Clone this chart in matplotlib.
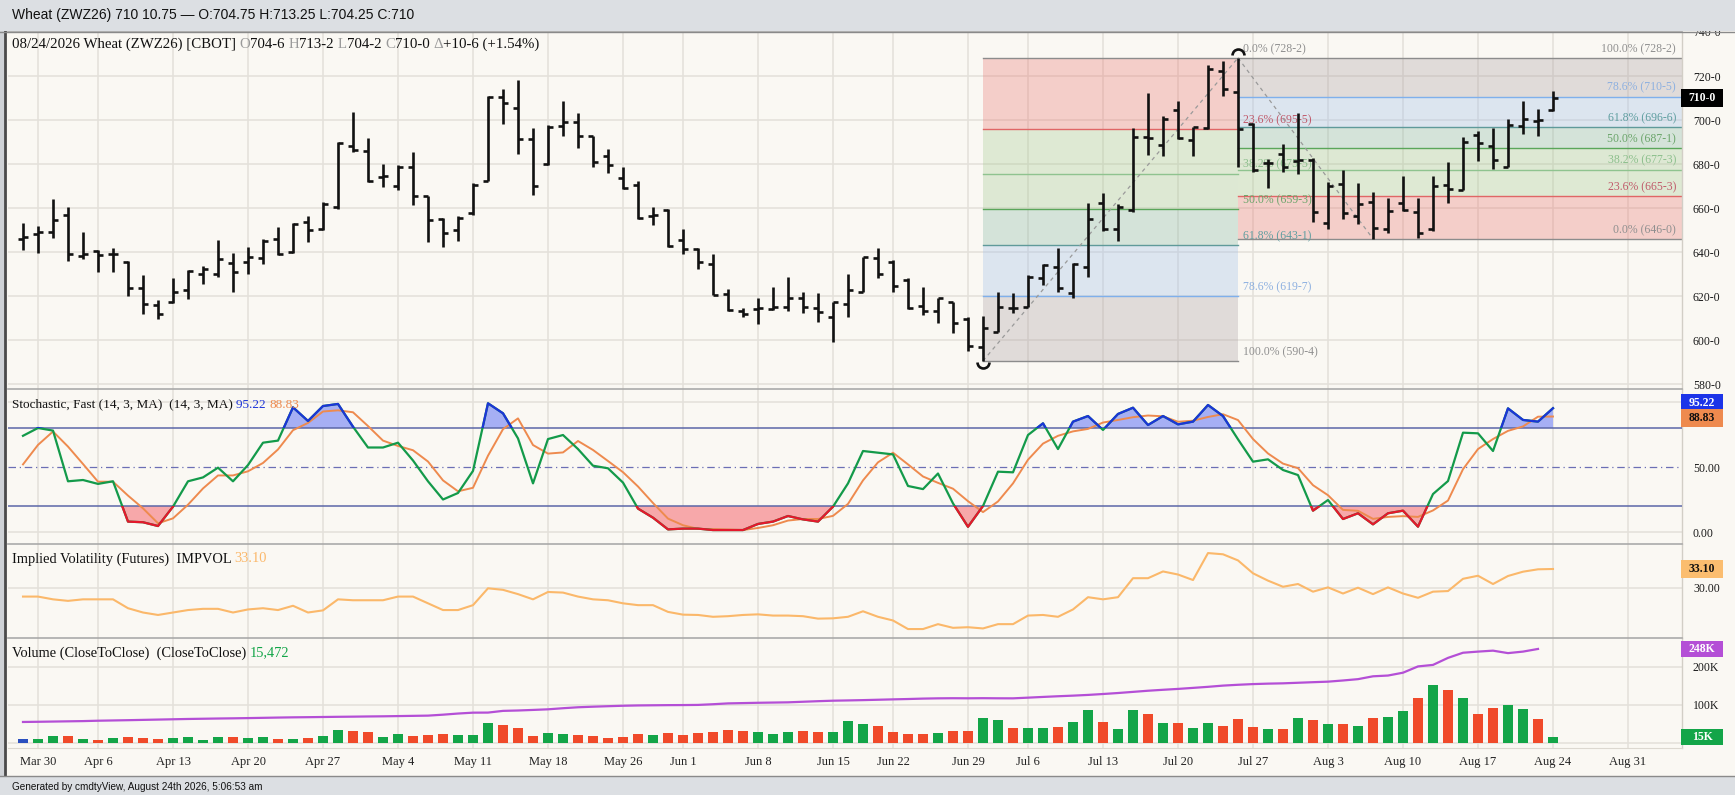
import numpy as np
import pandas as pd
import matplotlib
matplotlib.use("Agg")
import matplotlib.pyplot as plt
from matplotlib.collections import LineCollection
from matplotlib.patches import Rectangle
from matplotlib.lines import Line2D
from matplotlib.path import Path
from matplotlib.transforms import IdentityTransform

W, H = 1735, 795
BG = "#faf8f3"
GRID = "#e3e0da"
SERIF = ["Liberation Serif", "DejaVu Serif"]
SANS = ["Liberation Sans", "DejaVu Sans"]
plt.rcParams["font.family"] = SERIF

# ---------------- calendar / categories ----------------
HOLIDAYS = ["2026-04-03", "2026-05-25", "2026-06-19", "2026-07-03", "2026-09-07"]
CAL_START, CAL_END = "2026-03-27", "2026-09-04"
tick_dates = ["2026-03-30", "2026-04-06", "2026-04-13", "2026-04-20", "2026-04-27",
              "2026-05-04", "2026-05-11", "2026-05-18", "2026-05-26", "2026-06-01",
              "2026-06-08", "2026-06-15", "2026-06-22", "2026-06-29", "2026-07-06",
              "2026-07-13", "2026-07-20", "2026-07-27", "2026-08-03", "2026-08-10",
              "2026-08-17", "2026-08-24", "2026-08-31"]
tick_labels = ["Mar 30", "Apr 6", "Apr 13", "Apr 20", "Apr 27", "May 4", "May 11",
               "May 18", "May 26", "Jun 1", "Jun 8", "Jun 15", "Jun 22", "Jun 29",
               "Jul 6", "Jul 13", "Jul 20", "Jul 27", "Aug 3", "Aug 10", "Aug 17",
               "Aug 24", "Aug 31"]

# ---------------- price data (cents) ----------------
opens = [646, 648, 649.2, 656.8, 638, 640.4, 639, 635.5, 623.5, 615.9,
         617.4, 622.7, 630, 629.8, 634.8, 635.6, 637.1, 645.9, 640.1, 653.5,
         650.3, 660.3, 688.3, 686, 674.2, 670.1, 678.8, 665.4, 654.8, 650,
         657.6, 672.4, 710.6, 705.3, 691.2, 679.8, 697.3, 699.2, 692.7, 683.6,
         673.5, 670.4, 656.5, 659.1, 645.4, 641.3, 634.4, 620.7, 613.3, 614,
         614.1, 615.1, 618.9, 614.7, 610.6, 616.3, 622, 637.4, 635.3, 627.3,
         615.4, 613.3, 617.4, 609.5, 597, 603.8, 614.4, 615.1, 628, 633.3,
         621.2, 633.3, 662.4, 650.4, 659.1, 692.4, 688.6, 704.5, 690.9, 696.2,
         722.4, 712.9, 698, 680.3, 684.5, 681.5, 681.8, 653, 670.9, 656.4,
         662.9, 650.5, 662.1, 658.3, 650.3, 670.5, 668.2, 693.2, 688.2, 678.8,
         697.3, 699.5, 704.75]
highs = [653.3, 652, 664, 660.6, 649.2, 640.9, 642, 636, 629.4, 618.2,
         628.3, 631.8, 633.6, 645.4, 639.4, 642.4, 645.7, 651.2, 653.3, 656.5,
         662.7, 689.8, 703.5, 692, 680, 679.5, 685.6, 665.4, 655.3, 656.5,
         671.5, 710.9, 713.9, 718.2, 696.2, 697.7, 708.8, 703.3, 692.7, 686.6,
         678.8, 672.3, 660.6, 659.5, 650.4, 642, 638.9, 623, 614.7, 619.2,
         623.9, 628.8, 622, 621.2, 617.4, 630, 637.9, 641.7, 636.4, 628,
         624.2, 618.9, 617.4, 610.3, 611, 622, 621.2, 629.5, 634.4, 641.7,
         634.8, 662.1, 666.7, 661.8, 696.5, 712.4, 701.8, 708.6, 697, 725,
         727, 728.25, 698.8, 682.1, 688.9, 703, 682.6, 671.6, 677.3, 671.2,
         667.4, 664.4, 674.5, 664.7, 674.5, 681.1, 692.1, 695, 696.5, 700.3,
         708.8, 705, 713.25]
lows = [640.9, 639.7, 646.5, 635.9, 636.7, 630.7, 631, 620, 612, 609.4,
        617, 618.6, 625.3, 628.8, 621.7, 629.8, 634.4, 638.6, 639.4, 644.4,
        650, 659.5, 685.3, 672, 669.4, 668.2, 661.3, 644.7, 642.4, 645.1,
        656.8, 672.3, 698.2, 684.5, 665.9, 679.5, 692.9, 687.4, 678.8, 676,
        668.5, 654.8, 652.3, 642.1, 639.1, 632.1, 620.4, 613.2, 610.6, 607.1,
        613.6, 613.2, 612.4, 608.3, 598.9, 610.6, 622, 628, 622, 613.9,
        611.4, 607.6, 603, 595, 590.5, 603.5, 612.1, 614.8, 625, 622,
        618.9, 628.8, 649.7, 645, 658.3, 684.1, 683.6, 691.2, 683.6, 695.9,
        710.9, 678.8, 676.5, 668.9, 676.5, 675.4, 653.8, 650.5, 654.8, 652.7,
        646, 648.5, 658.8, 646.2, 649.7, 662.4, 668.2, 681.5, 677.6, 678.8,
        693.5, 692.7, 704.25]
closes = [647, 649, 654.5, 639, 639.2, 638.5, 639.1, 623.5, 616.2, 611.7,
          621.7, 631.5, 632.4, 636.6, 631, 637.9, 645, 639.1, 652.7, 650,
          661.8, 689.4, 686.3, 672.4, 674.5, 678.8, 665.6, 654.5, 648.8, 655.6,
          670.4, 710.6, 707.9, 691.2, 670, 697, 699.2, 692.7, 680.7, 679.5,
          668.9, 655.3, 657, 642.7, 641.2, 635.6, 620.4, 613.6, 611.8, 614.5,
          615, 618.9, 615.1, 612.6, 617.1, 622.7, 637.6, 629.8, 624.5, 614.4,
          613.3, 618.9, 607.9, 597.5, 605.6, 615.1, 614.5, 628.8, 634.1, 623.8,
          634.4, 654.8, 650.4, 660.6, 692.4, 691.7, 700.3, 691.7, 696.7, 723,
          713.9, 695.9, 677.3, 680.6, 678.8, 681.8, 658, 670.1, 657.6, 661.7,
          650.8, 658.6, 659.1, 648.8, 670.1, 668.6, 689.8, 689.4, 681.8, 697.7,
          700.5, 700, 710]

# ---------------- indicator data ----------------
stoch_k = [74, 80, 78, 39, 40, 37, 39, 8, 7.5, 4.6,
           19.5, 39, 42, 49.5, 39, 51.5, 68.7, 70.3, 95.9, 85.4,
           96.9, 98.5, 81, 65, 65, 68.7, 55, 39, 25, 30,
           47, 99, 91.3, 72, 37.4, 71.5, 74.6, 63.8, 51, 49,
           38, 18, 11, 2, 2.6, 2.6, 1.5, 1.5, 1.5, 6.2,
           8, 12.3, 9.7, 8, 19.5, 37.4, 62.3, 61, 59.7, 35.4,
           33, 45, 22, 4, 20, 46.4, 45.9, 74.6, 83.6, 63.8,
           84.9, 89.2, 78.5, 90.8, 95.6, 82.3, 89.2, 82.8, 84.9, 97.7,
           89.2, 71.3, 54.1, 55.9, 47.7, 43.8, 16.4, 24.6, 10, 14.4,
           5.9, 14.4, 16.4, 4.1, 29.2, 39.2, 76.4, 75.9, 62.3, 95.1,
           86.2, 84.9, 95.22]
stoch_d = [52, 67, 77.3, 65.7, 52.3, 38.7, 38.7, 28, 18.2, 6.7,
           10.5, 21, 33.5, 43.5, 43.5, 46.7, 53.1, 63.5, 78.3, 83.9,
           92.7, 93.6, 92.1, 81.5, 70.3, 66.2, 62.9, 54.2, 39.7, 31.3,
           34, 58.7, 79.1, 87.4, 66.9, 60.3, 61.2, 70, 63.1, 54.6,
           46, 35, 22.3, 10.3, 5.2, 2.4, 2.2, 1.9, 1.5, 3.1,
           5.2, 8.8, 10, 10, 12.4, 21.6, 39.7, 53.6, 61, 52,
           42.7, 37.8, 33.3, 23.7, 15.3, 23.5, 37.4, 55.6, 68, 74,
           77.4, 79.3, 84.2, 86.2, 88.3, 89.6, 89, 84.8, 85.6, 88.5,
           90.6, 86.1, 71.5, 60.4, 52.6, 49.1, 36, 28.3, 17, 16.3,
           10.1, 11.6, 12.2, 11.6, 16.6, 24.2, 48.3, 63.8, 71.5, 77.8,
           81.2, 88.7, 88.83]
impvol = [28.6, 28.6, 28.15, 27.9, 28.15, 28.15, 28.15, 26.7, 26.0, 25.6,
          26.0, 26.4, 26.6, 26.6, 26.0, 26.5, 26.7, 26.4, 27.1, 26.0,
          26.35, 28.15, 28.0, 28.0, 28.0, 28.6, 28.6, 27.5, 26.4, 26.4,
          27.2, 29.95, 29.7, 29.0, 28.15, 29.35, 29.25, 28.6, 28.15, 28.0,
          27.5, 27.2, 27.2, 26.1, 25.65, 25.6, 25.3, 25.4, 25.6, 25.7,
          25.5, 25.5, 25.4, 25.0, 25.05, 25.3, 26.2, 25.3, 24.7, 23.3,
          23.3, 24.1, 23.5, 23.6, 23.4, 24.1, 24.1, 25.5, 25.6, 25.3,
          26.5, 28.5, 28.15, 28.5, 31.6, 31.6, 32.7, 32.2, 31.3, 35.7,
          35.5, 34.5, 32.4, 31.2, 30.2, 30.65, 29.4, 30.1, 29.1, 30.05,
          29.0, 30.1, 29.1, 28.4, 29.4, 29.5, 31.5, 32.0, 30.65, 31.96,
          32.66, 33.05, 33.10]
volume_k = [9.6, 10.5, 18.4, 18.4, 11.4, 8.8, 14.0, 16.7, 13.2, 11.4,
            14.0, 14.9, 8.8, 15.8, 16.7, 14.0, 14.9, 10.5, 11.4, 14.0,
            19.3, 34.2, 32.5, 28.1, 16.7, 22.8, 19.3, 21.1, 23.7, 21.1,
            20.2, 52.6, 46.5, 38.6, 19.3, 27.2, 22.8, 21.1, 19.3, 14.0,
            16.7, 23.7, 21.9, 27.2, 20.2, 25.4, 29.8, 33.3, 31.6, 28.1,
            23.7, 29.0, 30.7, 28.1, 29.0, 57.9, 49.1, 43.9, 29.0, 24.6,
            24.6, 27.2, 30.7, 30.7, 65.8, 60.5, 38.6, 39.5, 39.5, 41.2,
            54.4, 86.8, 56.1, 37.7, 86.0, 75.4, 51.7, 53.5, 38.6, 51.7,
            45.6, 63.2, 42.1, 37.7, 36.8, 64.9, 59.6, 49.1, 49.1, 44.7,
            66.7, 69.3, 85.1, 117.5, 152.0, 139.5, 117.5, 75.0, 93.0, 100.0,
            90.0, 63.0, 15.472]
open_int_k = [55.3, 55.8, 56.4, 57.0, 57.6, 58.6, 59.3, 60.0, 60.8, 61.6,
              62.4, 63.2, 63.8, 64.4, 64.9, 65.5, 66.2, 66.9, 67.5, 67.9,
              68.4, 68.9, 69.3, 69.8, 70.2, 70.8, 71.4, 72.0, 74.5, 77.5,
              79.8, 80.0, 84.5, 85.5, 87.0, 88.6, 91.5, 94.0, 95.5, 96.8,
              98.0, 98.8, 99.2, 99.6, 99.8, 100.2, 102.0, 104.2, 105.0, 105.8,
              106.4, 107.0, 108.5, 110.0, 111.3, 112.0, 112.8, 113.8, 114.8, 115.7,
              116.8, 117.5, 117.8, 117.6, 117.9, 117.6, 117.5, 119.3, 121.2, 123.0,
              124.6, 126.5, 128.9, 131.5, 134.5, 137.5, 140.0, 142.3, 145.0, 147.8,
              151.0, 153.2, 155.0, 156.2, 157.0, 158.5, 160.0, 161.4, 164.5, 168.0,
              175.5, 177.5, 185.0, 201.5, 205.5, 224.0, 237.5, 240.5, 243.0, 236.5,
              240.5, 247.5]

# ---------------- fibonacci drawings ----------------
fib_ratios = [0.0, 0.236, 0.382, 0.5, 0.618, 0.786, 1.0]
fib1 = dict(i0=64, p0=590.5, i1=81, p1=728.25,
            labels=["0.0% (728-2)", "23.6% (695-5)", "38.2% (675-5)", "50.0% (659-3)",
                    "61.8% (643-1)", "78.6% (619-7)", "100.0% (590-4)"])
fib2 = dict(i0=81, p0=728.25, i1=90, p1=646.0,
            labels=["0.0% (646-0)", "23.6% (665-3)", "38.2% (677-3)", "50.0% (687-1)",
                    "61.8% (696-6)", "78.6% (710-5)", "100.0% (728-2)"])
band_colors = ["#e96f6a", "#a0c98c", "#9cc68a", "#7fb5a0", "#99bce9", "#a79ba0"]
line_colors = ["#8c8c8c", "#e06666", "#8fc38f", "#5aa65a", "#5f9a9a", "#7fb0ec", "#8c8c8c"]
label_colors = ["#8f8f8f", "#c0596a", "#8cbf8c", "#6aa56a", "#5f9ea0", "#8db0e0", "#8f8f8f"]

# ---------------- setup ----------------
cal = [d for d in pd.bdate_range(CAL_START, CAL_END) if d.strftime("%Y-%m-%d") not in HOLIDAYS]
cal_idx = {d.strftime("%Y-%m-%d"): k for k, d in enumerate(cal)}
tick_idx = [cal_idx[d] for d in tick_dates]
n = len(closes)
x = np.arange(n)

fig = plt.figure(figsize=(W / 100, H / 100), dpi=100, facecolor=BG)
R = fig.canvas.get_renderer()
XMIN, XMAX = -1, 110.6
PL, PR = 8, 1682


def add_ax(top, bot):
    ax = fig.add_axes([PL / W, 1 - bot / H, (PR - PL) / W, (bot - top) / H])
    ax.set_facecolor(BG)
    ax.set_xlim(XMIN, XMAX)
    for s in ["left", "bottom"]:
        ax.spines[s].set_visible(False)
    ax.spines["top"].set_color("#aaaaaa")
    ax.spines["top"].set_linewidth(1.2)
    ax.spines["right"].set_color("#d2cec6")
    ax.spines["right"].set_linewidth(1.0)
    ax.set_xticks(tick_idx)
    ax.tick_params(axis="x", length=0, labelbottom=False)
    ax.yaxis.tick_right()
    ax.tick_params(axis="y", length=0, pad=7.9, labelsize=8.5, labelcolor="#1a1a1a")
    for t in tick_idx:
        ax.axvline(t, color=GRID, lw=1.1, zorder=0.5)
    return ax


# ---------- price panel ----------
axp = add_ax(32, 389)
axp.set_ylim(577.73, 740)
pt = list(range(580, 741, 20))
axp.set_yticks(pt)
axp.set_yticklabels([f"{v}-0" for v in pt])
for v in pt:
    axp.axhline(v, color=GRID, lw=1.1, zorder=0.5)


def draw_fib(f, x_end, label_right):
    lv = [f["p1"] + r * (f["p0"] - f["p1"]) for r in fib_ratios]
    for j in range(len(lv) - 1):
        axp.fill_between([f["i0"], x_end], lv[j], lv[j + 1],
                         color=band_colors[j], alpha=0.3, lw=0, zorder=1)
    for j, v in enumerate(lv):
        axp.plot([f["i0"], x_end], [v, v], color=line_colors[j], lw=1.0, zorder=1.5)
        if label_right:
            axp.annotate(f["labels"][j], xy=(1, v), xycoords=("axes fraction", "data"),
                         xytext=(-6, 9), textcoords="offset pixels", ha="right", va="center",
                         fontsize=8.5, color=label_colors[j], zorder=2)
        else:
            axp.annotate(f["labels"][j], xy=(x_end + 0.35, v), xytext=(0, 9),
                         textcoords="offset pixels", ha="left", va="center",
                         fontsize=8.5, color=label_colors[j], zorder=2)
    axp.plot([f["i0"], f["i1"]], [f["p0"], f["p1"]], color="#9a9a9a", lw=0.9,
             ls=(0, (3, 3)), zorder=2)


draw_fib(fib1, fib1["i1"], False)
draw_fib(fib2, XMAX, True)

segs = []
for i in range(n):
    segs.append([(i, lows[i]), (i, highs[i])])
    segs.append([(i - 0.36, opens[i]), (i, opens[i])])
    segs.append([(i, closes[i]), (i + 0.36, closes[i])])
axp.add_collection(LineCollection(segs, colors="#111111", linewidths=1.9,
                                  capstyle="butt", zorder=4))
hi_i = int(np.argmax(highs))
lo_i = int(np.argmin(lows))
axp.plot([hi_i], [highs[hi_i] + 1.3], marker=Path.arc(0, 180), ms=8.6, mew=1.9,
         mfc="none", mec="#111111", ls="none", zorder=5)
axp.plot([lo_i], [lows[lo_i] - 0.6], marker=Path.arc(180, 360), ms=8.6, mew=1.9,
         mfc="none", mec="#111111", ls="none", zorder=5)

# ---------- stochastic panel ----------
axs = add_ax(389, 544)
axs.set_ylim(-9.23, 110)
axs.set_yticks([0, 50, 100])
axs.set_yticklabels(["0.00", "50.00", ""])
for v in [0, 100]:
    axs.axhline(v, color=GRID, lw=1.1, zorder=0.5)
k = np.array(stoch_k)
d = np.array(stoch_d)
axs.fill_between(x, k, 80, where=k >= 80, interpolate=True, color="#a6aff4", lw=0, zorder=2)
axs.fill_between(x, k, 20, where=k <= 20, interpolate=True, color="#f7a8aa", lw=0, zorder=2)
axs.axhline(80, color="#5b67a8", lw=1.1, zorder=3)
axs.axhline(20, color="#5b67a8", lw=1.1, zorder=3)
axs.axhline(50, color="#6b6fb5", lw=0.9, ls=(0, (6, 3, 1, 3)), zorder=3)
axs.plot(x, d, color="#ee8a4e", lw=1.4, zorder=4)
axs.plot(x, k, color="#139a4a", lw=1.6, zorder=5)
lb, = axs.plot(x, k, color="#1c34d8", lw=1.6, zorder=5.1)
lb.set_clip_path(Rectangle((-5, 80), 200, 100, transform=axs.transData))
lr, = axs.plot(x, k, color="#e5182c", lw=1.6, zorder=5.1)
lr.set_clip_path(Rectangle((-5, -60), 200, 80, transform=axs.transData))

# ---------- implied volatility panel ----------
axi = add_ax(544, 638)
axi.set_ylim(21.84, 37.18)
axi.set_yticks([30])
axi.set_yticklabels(["30.00"])
axi.axhline(30, color=GRID, lw=1.1, zorder=0.5)
axi.plot(x, impvol, color="#fbb86a", lw=1.5, zorder=3)

# ---------- volume panel ----------
axv = add_ax(638, 748)
axv.set_ylim(-13.2e3, 276.3e3)
axv.set_yticks([100e3, 200e3])
axv.set_yticklabels(["100K", "200K"])
for v in [0, 100e3, 200e3]:
    axv.axhline(v, color=GRID, lw=1.1, zorder=0.5)
axv.spines["bottom"].set_visible(True)
axv.spines["bottom"].set_color("#dcd8d0")
vcols = ["#2a4fbf"] + ["#13a548" if closes[i] > closes[i - 1] else "#f04a2a" for i in range(1, n)]
axv.bar(x, np.array(volume_k) * 1000, width=0.66, color=vcols, zorder=2)
axv.plot(np.arange(len(open_int_k)), np.array(open_int_k) * 1000, color="#b44fd6", lw=1.6, zorder=3)
axv.set_xticklabels(tick_labels)
axv.tick_params(axis="x", length=0, pad=5.5, labelbottom=True, labelsize=9, labelcolor="#222222")

# ---------------- figure-level decorations ----------------
ID = IdentityTransform()


def frect(x0, y0, x1, y1, z=10, **kw):
    fig.add_artist(Rectangle((x0, H - y1), x1 - x0, y1 - y0, transform=ID, zorder=z, **kw))


def hline(y, x0, x1, color, lw, z=11):
    fig.add_artist(Line2D([x0, x1], [H - y, H - y], transform=ID, color=color, lw=lw, zorder=z))


def twidth(s, **kw):
    t = fig.text(0, 0, s + "|", transform=ID, **kw)
    w1 = t.get_window_extent(R).width
    t.remove()
    t = fig.text(0, 0, "|", transform=ID, **kw)
    w2 = t.get_window_extent(R).width
    t.remove()
    return w1 - w2


def rich(x0, ybase, parts, size, family=SERIF, z=6):
    xx = x0
    for s, c in parts:
        fig.text(xx, H - ybase, s, transform=ID, color=c, fontsize=size, family=family,
                 ha="left", va="baseline", zorder=z)
        xx += twidth(s, fontsize=size, family=family)


def value_box(ax, yval, text, fc, tc, h=18, shift=0):
    yd = ax.transData.transform((0, yval))[1] + shift
    fig.add_artist(Rectangle((1681, yd - h / 2), 42, h, transform=ID, fc=fc, ec="none", zorder=8))
    fig.text(1702, yd, text, transform=ID, ha="center", va="center", color=tc, fontsize=8.5,
             fontweight="bold", zorder=8)


# header & footer
frect(0, 0, W, 31, fc="#dcdfe3", ec="none")
hline(31.5, 0, W, "#8a8a8a", 1.0)
fig.text(12, H - 19.5, "Wheat (ZWZ26) 710 10.75 \u2014 O:704.75 H:713.25 L:704.25 C:710",
         transform=ID, fontsize=10, family=SANS, color="#111111", va="baseline", zorder=11)
frect(0, 776, W, H, fc="#dcdfe3", ec="none")
hline(776, 0, W, "#8a8a8a", 1.0)
fig.text(12, H - 789.5, "Generated by cmdtyView, August 24th 2026, 5:06:53 am", transform=ID,
         fontsize=7.2, family=SANS, color="#111111", va="baseline", zorder=11)
frect(0, 31, 6, 776, fc="#cfd2d6", ec="none", z=9)
fig.add_artist(Line2D([4.5, 4.5], [H - 776, H - 31], transform=ID, color="#4a4a4a", lw=2.0, zorder=9.5))

# panel titles
G = "#9a9a9a"
rich(12, 47.5, [("08/24/2026 Wheat (ZWZ26) [CBOT] ", "#111111"), ("O", G), ("704-6 ", "#111111"),
                ("H", G), ("713-2 ", "#111111"), ("L", G), ("704-2 ", "#111111"), ("C", G),
                ("710-0 ", "#111111"), ("\u0394", G), ("+10-6 (+1.54%)", "#111111")], 10.7)
rich(12, 407.5, [("Stochastic, Fast (14, 3, MA)  (14, 3, MA) ", "#111111"),
                 (f"{stoch_k[-1]:.2f} ", "#1c34d8"), (f"{stoch_d[-1]:.2f}", "#ee8a4e")], 9.5)
rich(12, 562.5, [("Implied Volatility (Futures)  IMPVOL ", "#111111"),
                 (f"{impvol[-1]:.2f}", "#fbb86a")], 10.4)
rich(12, 656.5, [("Volume (CloseToClose)  (CloseToClose) ", "#111111"),
                 (f"{volume_k[-1] * 1000:,.0f}", "#13a548")], 10.4)

# right-side value boxes
value_box(axp, closes[-1], "710-0", "#000000", "#ffffff")
value_box(axs, stoch_k[-1], f"{stoch_k[-1]:.2f}", "#1c34e8", "#ffffff", shift=5)
value_box(axs, stoch_d[-1], f"{stoch_d[-1]:.2f}", "#ee8a4e", "#111111", shift=-1)
value_box(axi, impvol[-1], f"{impvol[-1]:.2f}", "#fbbd6f", "#111111")
value_box(axv, open_int_k[-1] * 1000, f"{open_int_k[-1]:.0f}K", "#b44fd6", "#ffffff", h=16)
value_box(axv, volume_k[-1] * 1000, f"{volume_k[-1]:.0f}K", "#13a548", "#ffffff", h=16)

fig.savefig("out.png", dpi=100, facecolor=BG)
